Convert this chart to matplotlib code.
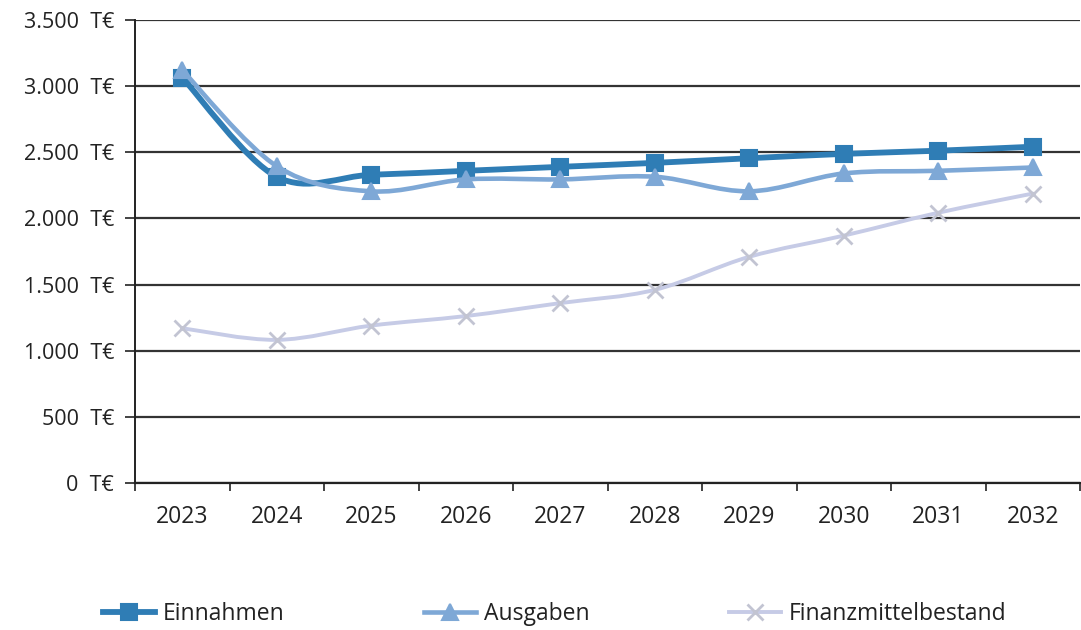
import matplotlib
matplotlib.use("Agg")
import matplotlib.pyplot as plt
from matplotlib.path import Path
from matplotlib.patches import PathPatch
from matplotlib.lines import Line2D
from matplotlib.ticker import FuncFormatter, FixedLocator
import numpy as np

years = ["2023", "2024", "2025", "2026", "2027", "2028", "2029", "2030", "2031", "2032"]
einnahmen = [3065, 2315, 2330, 2360, 2390, 2420, 2455, 2488, 2512, 2542]
ausgaben = [3120, 2395, 2205, 2295, 2295, 2315, 2205, 2340, 2360, 2385]
finanz = [1170, 1082, 1190, 1262, 1360, 1460, 1710, 1870, 2043, 2188]
y_ticks = [0, 500, 1000, 1500, 2000, 2500, 3000, 3500]

c_ein = "#2f7db5"
c_aus = "#7ea8d6"
c_fin = "#c6cbe6"
c_fin_m = "#c2c4d2"

plt.rcParams['font.family'] = ['Open Sans', 'DejaVu Sans']

fig = plt.figure(figsize=(10.81, 6.30), dpi=100)
ax = fig.add_axes([135/1081, 1-483/630, 945/1081, 463/630])

x = np.arange(len(years))


def smooth_path(xs, ys):
    pts = np.column_stack([xs, ys]).astype(float)
    verts = [pts[0]]
    codes = [Path.MOVETO]
    n = len(pts)
    for i in range(n - 1):
        p0 = pts[i - 1] if i > 0 else pts[i]
        p1 = pts[i]
        p2 = pts[i + 1]
        p3 = pts[i + 2] if i + 2 < n else pts[i + 1]
        c1 = p1 + (p2 - p0) / 6.0
        c2 = p2 - (p3 - p1) / 6.0
        verts += [c1, c2, p2]
        codes += [Path.CURVE4] * 3
    return Path(verts, codes)


series = [
    (einnahmen, c_ein, c_ein, 's', 11, 4.2, "Einnahmen"),
    (ausgaben, c_aus, c_aus, '^', 12, 3.3, "Ausgaben"),
    (finanz, c_fin, c_fin_m, 'x', 11, 2.8, "Finanzmittelbestand"),
]

handles = []
for i, (vals, col, mcol, mk, ms, lw, lab) in enumerate(series):
    patch = PathPatch(smooth_path(x, vals), facecolor='none', edgecolor=col,
                      lw=lw, zorder=3 + i, capstyle='round', joinstyle='round')
    ax.add_patch(patch)
    ax.plot(x, vals, linestyle='none', marker=mk, markersize=ms,
            color=mcol, markeredgecolor=mcol, markeredgewidth=1.5 if mk != 'x' else 2.0,
            zorder=3.5 + i)
    handles.append(Line2D([0], [0], color=col, lw=lw, marker=mk, markersize=ms,
                          markerfacecolor=mcol, markeredgecolor=mcol,
                          markeredgewidth=1.5 if mk != 'x' else 2.0))

ax.set_xlim(-0.5, len(years) - 0.5)
ax.set_ylim(0, 3500)
ax.set_yticks(y_ticks)
ax.yaxis.set_major_formatter(FuncFormatter(lambda v, p: f"{int(v):,}".replace(",", ".") + "  T€"))
ax.set_xticks(x)
ax.set_xticklabels(years)
ax.xaxis.set_minor_locator(FixedLocator(np.arange(-0.5, len(years), 1.0)))

ax.grid(axis='y', color='#333333', lw=1.6, zorder=1)
ax.set_axisbelow(True)
for s in ['top', 'right']:
    ax.spines[s].set_visible(False)
ax.spines['left'].set_color('#222222')
ax.spines['left'].set_linewidth(1.4)
ax.spines['bottom'].set_color('#222222')
ax.spines['bottom'].set_linewidth(1.6)

ax.tick_params(axis='y', length=7, width=1.2, color='#222222', labelsize=15.5, pad=8,
               labelcolor='#222222')
ax.tick_params(axis='x', which='major', length=0, labelsize=16.5, pad=16, labelcolor='#222222')
ax.tick_params(axis='x', which='minor', length=6, width=1.2, color='#222222')

leg = fig.legend(handles, [s[6] for s in series], loc='center left', ncol=3,
                 bbox_to_anchor=(103/1081, 1 - 614/630), frameon=False, fontsize=16.5,
                 handlelength=2.25, handletextpad=0.35, columnspacing=6.1,
                 borderaxespad=0, borderpad=0)
for t in leg.get_texts():
    t.set_color('#222222')

fig.savefig("out.png", dpi=100)
